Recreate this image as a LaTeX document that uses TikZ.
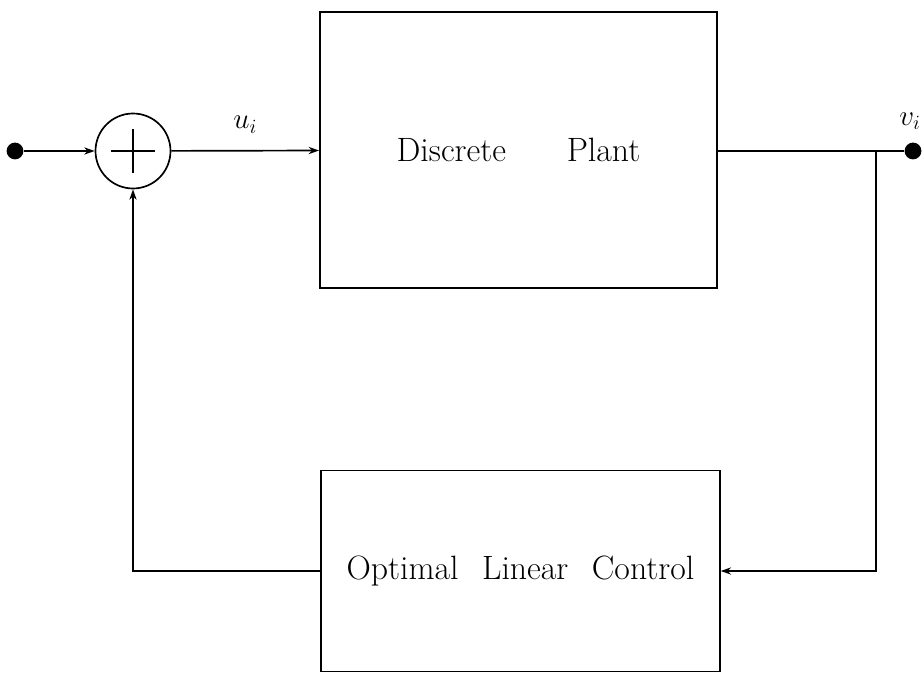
\documentclass[tikz,border=0pt]{standalone}
\usetikzlibrary{arrows.meta}
\begin{document}
\begin{tikzpicture}[line width=1.2pt, >={Stealth[length=2.6mm,width=1.8mm]}]
	% Stili dei blocchi
	\tikzset{blocco/.style={draw, rectangle, inner sep=0pt, font=\fontsize{24}{28}\selectfont},
		punto/.style={circle, fill, minimum size=0.42cm, inner sep=0pt},
		etichetta/.style={font=\fontsize{22}{26}\selectfont},
		somma/.style={circle, draw, minimum size=1.875cm, inner sep=0pt,
			path picture={\draw ([xshift=-0.55cm]path picture bounding box.center) -- ([xshift=0.55cm]path picture bounding box.center)
				([yshift=-0.55cm]path picture bounding box.center) -- ([yshift=0.55cm]path picture bounding box.center);}}}
	
	\useasboundingbox (0,0) rectangle (23.1,16.825);
	
	% Ingresso e nodo sommatore
	\node[punto] (ingresso) at (0.375,13.05) {};
	\node[somma] (somma) at (3.325,13.05) {};
	
	% Blocchi principali
	\node[blocco, minimum width=9.925cm, minimum height=6.9cm] (impianto) at (12.96,13.075) {Discrete\hspace{1.8em}Plant};
	\node[blocco, minimum width=9.975cm, minimum height=5.025cm] (controllo) at (13.01,2.55) {Optimal\hspace{0.7em}Linear\hspace{0.7em}Control};
	
	% Uscita
	\node[punto] (uscita) at (22.825,13.05) {};
	\node[etichetta] (vi) at (22.75,13.8) {$v_i$};
	\coordinate (ramo) at (21.9,13.05);
	
	% Collegamenti in avanti
	\draw[->] (ingresso) -- (somma);
	\draw[->] (somma) -- node[etichetta, above=0.3cm] (ui) {$u_i$} (impianto);
	\draw (impianto.east |- uscita) -- (uscita);
	
	% Retroazione
	\draw[->] (ramo) |- (controllo);
	\draw[->] (controllo) -| (somma);
	
\end{tikzpicture}
\end{document}
